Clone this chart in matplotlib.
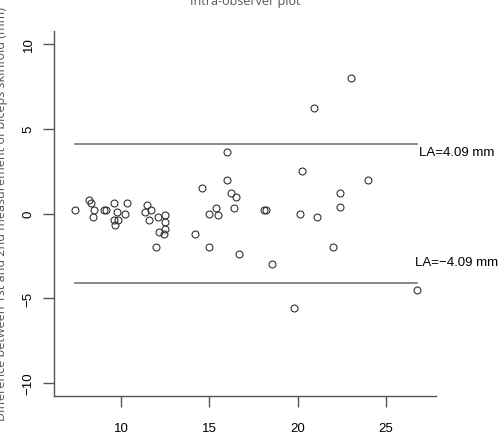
import numpy as np
import matplotlib.pyplot as plt

# Mean of the two measurements (mm)
mean_vals = [7.41, 8.21, 8.30, 8.49, 8.42, 9.05, 9.13, 9.62, 9.77, 10.21,
             10.32, 9.62, 9.85, 9.66, 11.45, 11.36, 11.70, 11.60, 12.09, 12.47,
             12.47, 12.47, 12.15, 12.43, 12.00, 14.21, 14.57, 14.97, 14.97, 15.38,
             15.47, 16.02, 16.02, 16.21, 16.53, 16.38, 16.69, 18.09, 18.21, 18.53,
             19.79, 20.11, 20.26, 20.91, 21.11, 22.00, 22.41, 22.41, 23.00, 24.00,
             26.75]
# Difference between 1st and 2nd measurement (mm)
diff_vals = [0.2, 0.8, 0.6, 0.2, -0.2, 0.2, 0.2, 0.6, 0.1, 0.0,
             0.6, -0.4, -0.4, -0.7, 0.5, 0.1, 0.2, -0.4, -0.2, -0.1,
             -0.5, -0.9, -1.1, -1.2, -2.0, -1.2, 1.5, 0.0, -2.0, 0.3,
             -0.1, 3.6, 2.0, 1.2, 1.0, 0.3, -2.4, 0.2, 0.2, -3.0,
             -5.6, 0.0, 2.5, 6.2, -0.2, -2.0, 1.2, 0.4, 8.0, 2.0,
             -4.5]
la = 4.09
la_labels = ['LA=4.09 mm', 'LA=\u22124.09 mm']
x_ticks = [10, 15, 20, 25]
y_ticks = [-10, -5, 0, 5, 10]

x = np.array(mean_vals)
y = np.array(diff_vals)

fig = plt.figure(figsize=(5.04, 4.35), dpi=100)
ax = fig.add_axes([54/504, 1-397/435, (436-54)/504, (397-32)/435])

ax.plot(x, y, 'o', mfc='none', mec='#333333', ms=5, mew=0.8)
ax.plot([x.min(), x.max()], [la, la], color='#777777', lw=1.2)
ax.plot([x.min(), x.max()], [-la, -la], color='#777777', lw=1.2)
ax.text(26.86, 3.63, la_labels[0], fontsize=9.5, family='Liberation Sans',
        va='center', ha='left', clip_on=False)
ax.text(26.64, -2.84, la_labels[1], fontsize=9.5, family='Liberation Sans',
        va='center', ha='left', clip_on=False)

ax.set_xlim(6.21, 27.83)
ax.set_ylim(-10.77, 10.77)
ax.set_xticks(x_ticks)
ax.set_yticks(y_ticks)
ax.set_yticklabels([str(t).replace('-', '\u2212') for t in y_ticks],
                   rotation=90, va='center')
for s in ['top', 'right']:
    ax.spines[s].set_visible(False)
for s in ['left', 'bottom']:
    ax.spines[s].set_color('#555555')
    ax.spines[s].set_linewidth(1.0)
ax.tick_params(axis='both', length=8, width=1.0, color='#555555',
               labelsize=9.5, labelcolor='black')
ax.tick_params(axis='x', pad=11)
ax.tick_params(axis='y', pad=6)
for lab in ax.get_xticklabels() + ax.get_yticklabels():
    lab.set_family('Liberation Sans')

fig.text(245/504, 1-5/435, 'Intra-observer plot', ha='center', va='baseline',
         fontsize=9, family='Open Sans', color='#555555')
fig.text(8.5/504, 1-214.5/435,
         'Difference between 1st and 2nd measurement of biceps skinfold (mm)',
         rotation=90, ha='right', va='center', fontsize=9, family='Open Sans',
         color='#555555')

fig.savefig('out.png', dpi=100)
